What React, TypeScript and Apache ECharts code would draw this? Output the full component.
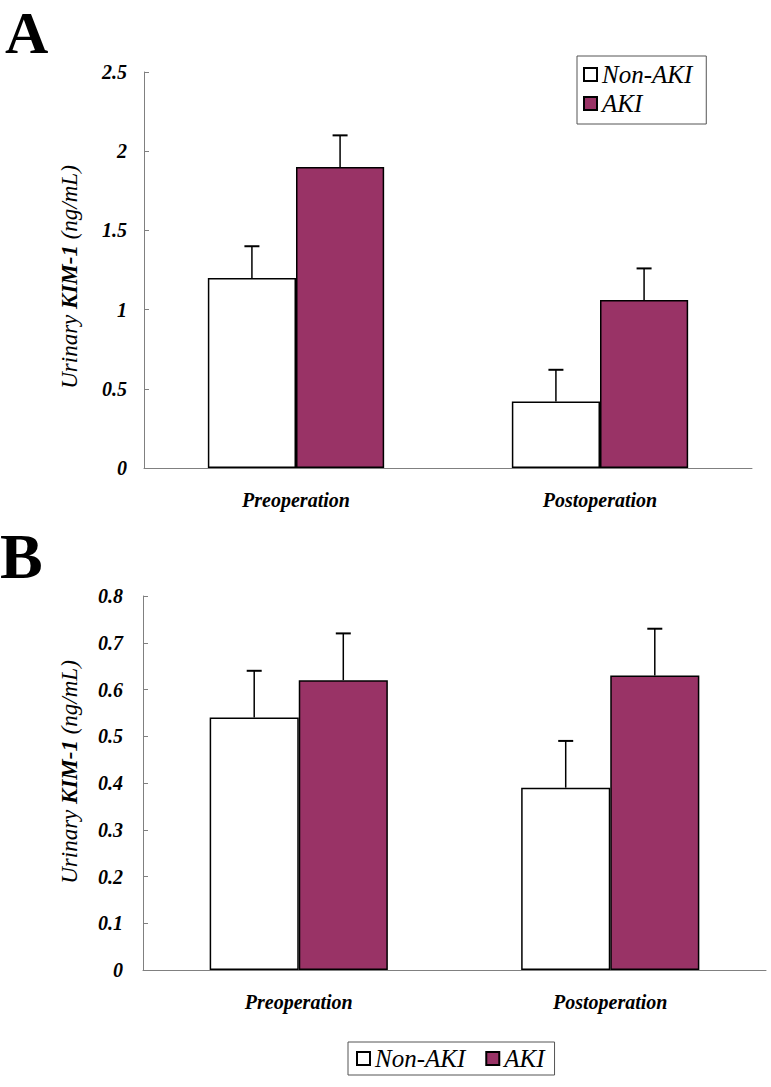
import React, { useEffect, useRef } from 'react';
import * as echarts from 'echarts';

const categories = ['Preoperation', 'Postoperation'];
const seriesNames = ['Non-AKI', 'AKI'];

// Panel A
const aNonAki = [1.2, 0.42];
const aNonAkiErr = [0.2, 0.2];
const aAki = [1.9, 1.06];
const aAkiErr = [0.2, 0.2];
const aTicks = { min: 0, max: 2.5, interval: 0.5 };

// Panel B
const bNonAki = [0.54, 0.39];
const bNonAkiErr = [0.1, 0.1];
const bAki = [0.62, 0.63];
const bAkiErr = [0.1, 0.1];
const bTicks = { min: 0, max: 0.8, interval: 0.1 };

const SERIF = '"Liberation Serif", "Times New Roman", serif';
const AKI_COLOR = '#993366';

function errData(vals: number[], errs: number[]) {
  return vals.map((v, i) => [i, v, errs[i]]);
}

function makeErr(sign: number, frac: number) {
  return (params: any, api: any) => {
    const ci = api.value(0);
    const v = api.value(1);
    const e = api.value(2);
    const band = api.size([1, 0])[0];
    const barW = band * frac;
    const base = api.coord([ci, v]);
    const x = base[0] + (sign * barW) / 2;
    const top = api.coord([ci, v + e])[1];
    const cap = 7.5;
    return {
      type: 'group',
      children: [
        { type: 'line', shape: { x1: x, y1: base[1], x2: x, y2: top }, style: { stroke: '#000', lineWidth: 1.5 } },
        { type: 'line', shape: { x1: x - cap, y1: top, x2: x + cap, y2: top }, style: { stroke: '#000', lineWidth: 2 } },
      ],
    };
  };
}

function xAxisCfg(gridIndex: number) {
  return {
    gridIndex,
    type: 'category',
    data: categories,
    axisLine: { lineStyle: { color: '#808080', width: 1 } },
    axisTick: { inside: true, length: 5, lineStyle: { color: '#808080' } },
    axisLabel: { margin: 22, fontFamily: SERIF, fontStyle: 'italic', fontWeight: 'bold', fontSize: 20, color: '#000' },
  };
}

function yAxisCfg(gridIndex: number, t: { min: number; max: number; interval: number }, margin: number) {
  return {
    gridIndex,
    type: 'value',
    min: t.min,
    max: t.max,
    interval: t.interval,
    axisLine: { show: true, lineStyle: { color: '#808080', width: 1 } },
    axisTick: { show: true, inside: true, length: 5, lineStyle: { color: '#808080' } },
    splitLine: { show: false },
    axisLabel: { margin, fontFamily: SERIF, fontStyle: 'italic', fontWeight: 'bold', fontSize: 20, color: '#000' },
  };
}

function barSeries(name: string, data: number[], idx: number, color: string, width: string) {
  return {
    name,
    type: 'bar',
    xAxisIndex: idx,
    yAxisIndex: idx,
    data,
    barWidth: width,
    barGap: '0%',
    itemStyle: { color, borderColor: '#000', borderWidth: 1.5 },
  };
}

function errSeries(name: string, data: number[][], idx: number, sign: number, frac: number) {
  return {
    name,
    type: 'custom',
    xAxisIndex: idx,
    yAxisIndex: idx,
    data,
    z: 5,
    encode: { x: 0, y: 1 },
    renderItem: makeErr(sign, frac),
  };
}

function axisName(x: number, y: number) {
  return {
    type: 'text',
    x,
    y,
    rotation: Math.PI / 2,
    style: {
      text: '{i|Urinary }{b|KIM-1}{i| (ng/mL)}',
      align: 'center',
      verticalAlign: 'middle',
      rich: {
        i: { fontFamily: SERIF, fontStyle: 'italic', fontSize: 23, fill: '#000' },
        b: { fontFamily: SERIF, fontStyle: 'italic', fontWeight: 'bold', fontSize: 23, fill: '#000' },
      },
    },
  };
}

const legendText = { fontFamily: SERIF, fontStyle: 'italic', fontSize: 25, color: '#000' };

export default function App() {
  const ref = useRef<HTMLDivElement>(null);
  useEffect(() => {
    document.body.style.margin = '0';
    const chart = echarts.init(ref.current as HTMLDivElement, null, { renderer: 'svg' });
    const fa = 0.29;
    const fb = 0.286;
    chart.setOption({
      animation: false,
      backgroundColor: '#fff',
      grid: [
        { left: 144, top: 72, width: 608, height: 396 },
        { left: 143, top: 596, width: 623, height: 374 },
      ],
      xAxis: [xAxisCfg(0), xAxisCfg(1)],
      yAxis: [yAxisCfg(0, aTicks, 17), yAxisCfg(1, bTicks, 20)],
      legend: [
        {
          data: seriesNames,
          orient: 'vertical',
          left: 577,
          top: 56,
          borderColor: '#555',
          borderWidth: 1,
          padding: [6, 14, 8, 6],
          itemGap: 4,
          itemWidth: 13,
          itemHeight: 13,
          icon: 'rect',
          selectedMode: false,
          textStyle: legendText,
        },
        {
          data: seriesNames,
          orient: 'horizontal',
          left: 348,
          top: 1042,
          borderColor: '#555',
          borderWidth: 1,
          padding: [4, 10, 4, 8],
          itemGap: 20,
          itemWidth: 13,
          itemHeight: 13,
          icon: 'rect',
          selectedMode: false,
          textStyle: legendText,
        },
      ],
      graphic: [
        { type: 'text', x: 5, y: 33, style: { text: 'A', fontFamily: SERIF, fontWeight: 'bold', fontSize: 60, fill: '#000', verticalAlign: 'middle' } },
        { type: 'text', x: 0, y: 556, style: { text: 'B', fontFamily: SERIF, fontWeight: 'bold', fontSize: 64, fill: '#000', verticalAlign: 'middle' } },
        axisName(69, 277),
        axisName(69, 772),
      ],
      series: [
        barSeries('Non-AKI', aNonAki, 0, '#ffffff', '29%'),
        barSeries('AKI', aAki, 0, AKI_COLOR, '29%'),
        barSeries('Non-AKI', bNonAki, 1, '#ffffff', '28.6%'),
        barSeries('AKI', bAki, 1, AKI_COLOR, '28.6%'),
        errSeries('errA1', errData(aNonAki, aNonAkiErr), 0, -1, fa),
        errSeries('errA2', errData(aAki, aAkiErr), 0, 1, fa),
        errSeries('errB1', errData(bNonAki, bNonAkiErr), 1, -1, fb),
        errSeries('errB2', errData(bAki, bAkiErr), 1, 1, fb),
      ],
    });
    return () => chart.dispose();
  }, []);
  return <div ref={ref} style={{ width: 771, height: 1087 }} />;
}
